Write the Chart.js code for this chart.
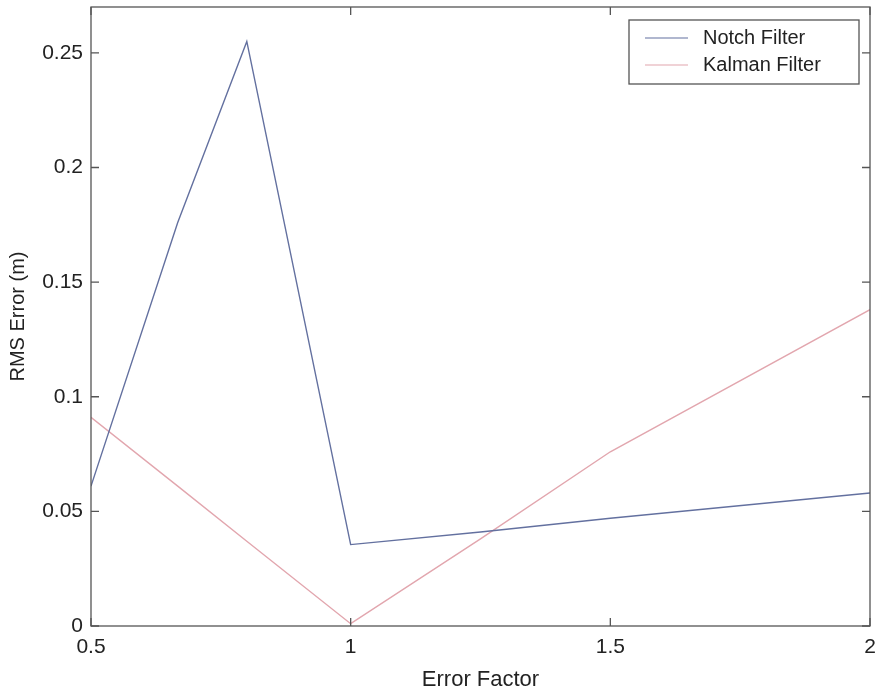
<!DOCTYPE html>
<html>
<head>
<meta charset="utf-8">
<script src="https://cdn.jsdelivr.net/npm/chart.js@4/dist/chart.umd.min.js"></script>
<style>
  html, body { margin: 0; padding: 0; background: #fff; }
  #wrap { width: 875px; height: 693px; }
</style>
</head>
<body>
<div id="wrap"><canvas id="rmsChart" width="875" height="693"></canvas></div>
<script>
// error factors (x) and RMS error for each filter
const errorFactors = [0.5, 0.667, 0.8, 1.0, 1.25, 1.5, 2.0];
const notchRms = [0.061, 0.176, 0.255, 0.0355, 0.041, 0.047, 0.058];
const kalmanRms = [0.091, 0.061, 0.037, 0.001, 0.038, 0.076, 0.138];
const xTicks = [0.5, 1, 1.5, 2];
const yTicks = [0, 0.05, 0.1, 0.15, 0.2, 0.25];

const toPoints = (ys) => errorFactors.map((x, i) => ({ x: x, y: ys[i] }));

// box round the axes + inward tick marks on all four sides
const axesBox = {
    id: 'axesBox',
    afterDraw(chart) {
        const c = chart.ctx;
        const a = chart.chartArea;
        const xs = chart.scales.x, ys = chart.scales.y;
        c.save();
        c.strokeStyle = '#555';
        c.lineWidth = 1.3;
        c.strokeRect(a.left, a.top, a.right - a.left, a.bottom - a.top);
        c.beginPath();
        xTicks.forEach(v => {
            const px = xs.getPixelForValue(v);
            c.moveTo(px, a.bottom); c.lineTo(px, a.bottom - 8);
            c.moveTo(px, a.top); c.lineTo(px, a.top + 8);
        });
        yTicks.forEach(v => {
            const py = ys.getPixelForValue(v);
            c.moveTo(a.left, py); c.lineTo(a.left + 8, py);
            c.moveTo(a.right, py); c.lineTo(a.right - 8, py);
        });
        c.stroke();
        c.restore();
    }
};

// matlab style legend box in the upper right corner
const boxLegend = {
    id: 'boxLegend',
    afterDraw(chart) {
        const c = chart.ctx;
        const a = chart.chartArea;
        const sets = chart.data.datasets;
        const w = 230, rowH = 27;
        const h = sets.length * rowH + 10;
        const left = a.right - 11 - w, top = a.top + 13;
        c.save();
        c.fillStyle = '#fff';
        c.fillRect(left, top, w, h);
        c.strokeStyle = '#555';
        c.lineWidth = 1.3;
        c.strokeRect(left, top, w, h);
        c.font = '20px "Liberation Sans", Arial, sans-serif';
        c.textBaseline = 'middle';
        sets.forEach((ds, i) => {
            const y = top + 18 + i * rowH;
            c.strokeStyle = ds.borderColor;
            c.lineWidth = 1.2;
            c.beginPath();
            c.moveTo(left + 16, y); c.lineTo(left + 59, y);
            c.stroke();
            c.fillStyle = '#222';
            c.fillText(ds.label, left + 74, y);
        });
        c.restore();
    }
};

const ctx = document.getElementById('rmsChart').getContext('2d');
const rmsChart = new Chart(ctx, {
    type: 'scatter',
    data: {
        datasets: [{
            label: 'Notch Filter',
            data: toPoints(notchRms),
            showLine: true,
            borderColor: '#63709f',
            borderWidth: 1.4,
            pointRadius: 0,
            tension: 0
        }, {
            label: 'Kalman Filter',
            data: toPoints(kalmanRms),
            showLine: true,
            borderColor: '#e2a6ae',
            borderWidth: 1.4,
            pointRadius: 0,
            tension: 0
        }]
    },
    options: {
        responsive: false,
        animation: false,
        layout: { padding: { top: 7, right: 5, left: 0, bottom: 0 } },
        plugins: {
            legend: { display: false },
            tooltip: { enabled: false }
        },
        scales: {
            x: {
                type: 'linear',
                min: 0.5,
                max: 2,
                afterBuildTicks: (s) => { s.ticks = xTicks.map(v => ({ value: v })); },
                afterFit: (s) => { s.height = 67; s.paddingLeft = 0; s.paddingRight = 0; },
                grid: { display: false, drawTicks: false },
                border: { display: false },
                ticks: {
                    padding: 9,
                    color: '#222',
                    font: { family: '"Liberation Sans", Arial, sans-serif', size: 21 },
                    maxRotation: 0,
                    callback: (v) => String(v)
                },
                title: {
                    display: true,
                    text: 'Error Factor',
                    color: '#222',
                    font: { family: '"Liberation Sans", Arial, sans-serif', size: 22 },
                    padding: { top: 2, bottom: 0 }
                }
            },
            y: {
                min: 0,
                max: 0.27,
                afterBuildTicks: (s) => { s.ticks = yTicks.map(v => ({ value: v })); },
                afterFit: (s) => { s.width = 91; s.paddingTop = 0; s.paddingBottom = 0; },
                grid: { display: false, drawTicks: false },
                border: { display: false },
                ticks: {
                    padding: 8,
                    color: '#222',
                    font: { family: '"Liberation Sans", Arial, sans-serif', size: 21 },
                    callback: (v) => String(v)
                },
                title: {
                    display: true,
                    text: 'RMS Error (m)',
                    color: '#222',
                    font: { family: '"Liberation Sans", Arial, sans-serif', size: 20 },
                    padding: { top: 6, bottom: 0 }
                }
            }
        }
    },
    plugins: [axesBox, boxLegend]
});
</script>
</body>
</html>
